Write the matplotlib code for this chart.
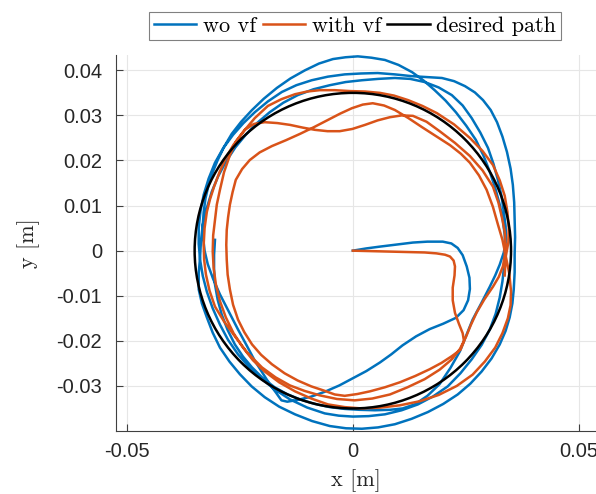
import numpy as np
import matplotlib
matplotlib.use('Agg')
import matplotlib.pyplot as plt
from matplotlib.patches import Circle
from matplotlib.lines import Line2D

plt.rcParams['font.family'] = ['Liberation Sans', 'DejaVu Sans']
plt.rcParams['axes.unicode_minus'] = False

# desired path: circle, radius in m
R_DESIRED = 0.035

# trajectories, (x, y) in mm
wo_vf_mm = [
    (0.0, 0.0), (3.0, 0.5), (6.0, 0.9), (10.0, 1.4), (13.3, 1.8), (16.5, 2.0), (19.9, 2.0),
    (21.8, 1.6), (23.2, 0.6), (24.3, -1.0), (25.2, -3.5), (25.8, -6.0), (25.9, -8.5),
    (25.5, -11.0), (24.5, -13.2), (22.8, -14.9), (20.0, -16.2), (17.0, -17.4), (14.0, -19.0),
    (11.0, -21.0), (8.5, -23.0), (6.0, -24.8), (3.0, -26.7), (0.0, -28.3), (-3.0, -29.9),
    (-6.2, -31.3), (-9.3, -32.4), (-12.2, -33.1), (-14.5, -33.5), (-15.8, -33.2),
    (-17.0, -31.5), (-18.4, -29.6), (-20.0, -27.1), (-21.7, -24.4), (-23.5, -21.0),
    (-25.4, -17.5), (-27.4, -13.6), (-29.4, -9.7), (-30.9, -6.3), (-32.1, -3.0), (-32.8, 0.0),
    (-33.1, 2.8), (-33.2, 5.7), (-33.0, 8.6), (-32.6, 11.6), (-31.9, 14.6), (-31.0, 17.4),
    (-29.9, 20.1), (-28.5, 23.0), (-26.8, 25.9), (-24.7, 28.6), (-22.3, 31.2), (-19.7, 33.7),
    (-16.8, 36.1), (-13.8, 38.2), (-10.6, 40.0), (-7.5, 41.5), (-4.4, 42.5), (-1.6, 42.9),
    (1.1, 43.1), (4.1, 42.8), (7.1, 42.3), (10.1, 41.2), (13.1, 39.6), (15.7, 37.7),
    (18.1, 35.6), (20.5, 33.3), (22.8, 30.7), (25.1, 27.7), (27.2, 24.6), (28.9, 21.1),
    (30.3, 17.5), (31.5, 13.9), (32.5, 10.2), (33.2, 6.8), (33.6, 3.5), (33.7, 0.2),
    (33.5, -3.1), (33.1, -6.8), (32.5, -10.4), (31.6, -14.0), (30.3, -17.5), (28.5, -20.9),
    (26.3, -24.1), (23.8, -27.2), (21.0, -30.1), (17.8, -32.3), (14.4, -34.1), (10.8, -35.4),
    (7.1, -36.3), (3.5, -36.7), (0.0, -36.8), (-3.1, -36.6), (-6.2, -36.1), (-10.1, -34.8),
    (-13.9, -33.0), (-17.1, -30.9), (-20.1, -28.5), (-22.9, -25.9), (-25.4, -23.0),
    (-27.6, -19.8), (-29.4, -16.4), (-31.0, -12.8), (-32.3, -9.1), (-33.2, -5.6), (-33.8, -2.0),
    (-34.1, 1.5), (-34.1, 5.1), (-33.7, 8.8), (-33.0, 12.4), (-31.9, 16.0), (-30.5, 19.5),
    (-28.7, 22.7), (-26.5, 25.7), (-24.2, 28.3), (-21.7, 30.7), (-18.8, 33.1), (-15.7, 35.2),
    (-12.5, 36.7), (-9.1, 37.8), (-5.5, 38.6), (-1.8, 39.1), (1.8, 39.3), (5.5, 39.4),
    (9.3, 39.1), (13.1, 38.7), (16.4, 38.5), (19.7, 38.3), (22.4, 37.6), (24.8, 36.5),
    (27.0, 35.1), (28.8, 33.4), (30.5, 31.2), (31.9, 28.5), (33.1, 25.3), (34.1, 21.9),
    (34.9, 18.2), (35.4, 14.6), (35.7, 10.7), (35.8, 6.9), (35.9, 3.0), (35.8, -0.9),
    (35.8, -4.8), (35.6, -8.6), (35.3, -11.7), (34.7, -14.8), (33.8, -17.8), (32.5, -20.8),
    (30.7, -23.9), (28.5, -26.8), (26.0, -29.5), (23.2, -31.9), (20.0, -34.0), (16.6, -35.8),
    (13.0, -37.3), (9.3, -38.5), (5.6, -39.2), (2.0, -39.5), (-1.5, -39.4), (-5.1, -38.9),
    (-9.0, -37.8), (-12.8, -36.3), (-16.3, -34.6), (-19.5, -32.5), (-22.4, -30.1),
    (-25.0, -27.4), (-27.3, -24.6), (-29.4, -21.5), (-31.0, -18.2), (-32.3, -14.8),
    (-33.4, -11.7), (-34.1, -8.6), (-34.1, -5.0), (-33.8, -1.5), (-33.6, 2.2), (-33.2, 5.8),
    (-32.3, 9.5), (-31.2, 13.1), (-29.8, 16.5), (-28.1, 19.7), (-26.0, 22.9), (-23.7, 25.7),
    (-21.2, 28.3), (-18.4, 30.7), (-15.4, 32.8), (-12.2, 34.5), (-8.7, 35.8), (-5.1, 36.7),
    (-1.6, 37.4), (2.0, 37.8), (5.6, 38.1), (9.3, 38.3), (12.7, 38.1), (15.9, 37.4),
    (19.0, 36.2), (21.9, 34.5), (24.3, 32.2), (26.3, 29.4), (28.2, 26.2), (29.9, 22.8),
    (31.1, 19.3), (32.1, 15.7), (32.9, 12.1), (33.4, 8.6), (33.8, 5.4), (33.9, 2.4),
    (33.4, -0.4), (32.5, -3.1), (31.5, -5.5), (30.3, -8.0), (28.4, -11.7), (26.5, -15.3),
    (25.1, -18.8), (23.7, -22.3), (21.6, -26.0), (19.2, -29.6), (16.5, -32.2), (13.7, -34.1),
    (11.0, -35.0), (8.2, -35.3), (4.9, -35.4), (1.5, -35.3), (-1.8, -35.1), (-5.1, -34.7),
    (-8.4, -34.0), (-11.7, -33.0), (-14.6, -31.8), (-17.3, -30.3), (-19.9, -28.3),
    (-22.3, -25.9), (-24.3, -23.5), (-26.1, -20.8), (-27.7, -17.6), (-29.0, -14.2),
    (-29.9, -10.9), (-30.5, -7.5), (-30.7, -4.2), (-30.7, -0.9), (-30.5, 2.4),
]

with_vf_mm = [
    (0.0, 0.0), (4.0, -0.1), (8.2, -0.2), (12.0, -0.3), (15.9, -0.4), (18.5, -0.6),
    (20.4, -0.9), (21.5, -1.3), (22.3, -2.2), (22.6, -3.5), (22.5, -5.5), (22.1, -8.2),
    (22.1, -11.0), (22.6, -13.8), (23.5, -16.3), (24.3, -18.3), (24.6, -20.1), (23.8, -22.0),
    (21.9, -23.4), (19.6, -24.9), (17.0, -26.3), (13.8, -27.8), (10.4, -29.2), (7.1, -30.3),
    (3.8, -31.2), (1.0, -31.8), (-1.8, -32.2),
    (-4.0, -31.9), (-6.2, -31.1), (-9.2, -30.1), (-12.2, -28.8), (-15.1, -27.2),
    (-17.9, -25.2), (-20.3, -23.1), (-22.3, -20.8), (-24.0, -18.1), (-25.4, -15.3),
    (-26.5, -12.0), (-27.2, -8.6), (-27.7, -5.3), (-27.9, -2.0), (-28.0, 1.3), (-27.9, 4.6),
    (-27.6, 7.4), (-27.2, 10.2), (-26.6, 13.0), (-25.9, 15.7), (-24.5, 18.1), (-22.8, 20.1),
    (-20.6, 21.8), (-17.9, 23.2), (-14.8, 24.5), (-11.7, 25.9), (-8.6, 27.4), (-5.5, 29.0),
    (-2.8, 30.4), (-0.2, 31.6), (2.2, 32.4), (4.4, 32.7), (6.9, 32.2), (9.3, 31.2),
    (12.3, 29.4), (15.3, 27.4), (18.4, 25.4), (21.5, 23.4), (23.9, 21.5), (25.9, 19.5),
    (27.9, 16.7), (29.6, 13.5), (31.0, 9.7), (32.1, 5.8), (33.1, 2.4), (33.8, -1.0),
    (34.6, -5.0), (35.0, -9.0), (34.9, -12.1), (34.3, -15.0), (33.1, -18.3), (31.5, -21.5),
    (29.2, -24.6), (26.5, -27.5), (23.0, -30.0), (19.0, -32.0), (14.8, -33.4), (10.4, -34.3),
    (6.2, -34.8), (2.0, -35.0), (-1.8, -34.7), (-5.5, -34.1),
    (-9.2, -32.8), (-12.8, -31.2), (-16.3, -29.2), (-19.5, -26.8), (-22.1, -24.3),
    (-24.3, -21.5), (-26.4, -18.3), (-28.1, -14.8), (-29.4, -11.2), (-30.3, -7.5),
    (-30.8, -3.8), (-31.0, -0.2), (-30.9, 3.4), (-30.5, 6.9), (-30.1, 10.2), (-29.4, 13.5),
    (-28.5, 17.4), (-27.2, 21.2), (-25.8, 24.3), (-23.9, 26.8), (-21.9, 28.1), (-19.5, 28.5),
    (-16.7, 28.3), (-13.9, 27.9), (-11.1, 27.3), (-8.4, 26.8), (-5.6, 26.5), (-2.9, 26.5),
    (-0.1, 27.0), (2.7, 27.9), (5.5, 28.9), (8.2, 29.6), (10.8, 30.0), (13.3, 29.9),
    (16.3, 28.6), (19.2, 26.5), (22.6, 23.9), (25.9, 21.0), (28.7, 17.8), (31.0, 14.2),
    (32.2, 10.7), (33.0, 7.3), (33.6, 4.2), (33.8, 1.3), (33.6, -1.1), (33.2, -3.5),
    (32.3, -5.8), (31.0, -8.0), (29.1, -10.8), (27.4, -13.7), (26.1, -16.5), (25.0, -19.2),
    (23.7, -21.8), (21.9, -24.1), (19.2, -26.4), (15.9, -28.5), (12.1, -30.3), (8.2, -31.9),
    (4.3, -32.8), (0.4, -33.2), (-3.5, -32.9), (-7.3, -32.1), (-10.7, -31.1), (-13.9, -29.9),
    (-17.1, -28.1), (-20.1, -25.9), (-23.3, -22.7), (-26.1, -19.0), (-28.5, -15.7),
    (-30.5, -12.4), (-31.7, -8.9), (-32.5, -5.3), (-32.9, -2.0), (-33.0, 1.3), (-32.8, 5.0),
    (-32.3, 8.6), (-31.6, 11.4), (-30.7, 14.2), (-29.5, 17.4), (-28.1, 20.6), (-26.4, 23.5),
    (-24.3, 26.3), (-21.7, 29.4), (-18.8, 32.1), (-15.8, 33.6), (-12.8, 34.7), (-10.1, 35.3),
    (-7.3, 35.6), (-4.0, 35.6), (-0.7, 35.4), (2.7, 35.3), (6.0, 35.0), (9.1, 34.4),
    (12.2, 33.4), (15.4, 32.1), (18.6, 30.5), (22.4, 28.0), (25.9, 25.0), (28.7, 22.1),
    (31.0, 19.0), (32.5, 15.6), (33.6, 12.2), (34.2, 8.6), (34.5, 5.1), (34.4, 1.8),
    (33.8, -1.5), (33.6, -5.5),
]

xticks = [-0.05, 0, 0.05]
xtick_labels = ['-0.05', '0', '0.05']
yticks = [-0.03, -0.02, -0.01, 0, 0.01, 0.02, 0.03, 0.04]
ytick_labels = ['-0.03', '-0.02', '-0.01', '0', '0.01', '0.02', '0.03', '0.04']

C_BLUE = '#0072BD'
C_ORANGE = '#D95319'
LW = 1.8

fig = plt.figure(figsize=(5.96, 4.94), dpi=100)
ax = fig.add_axes([116 / 596, 63 / 494, 480 / 596, 376 / 494])

wo = np.array(wo_vf_mm) / 1000.0
wv = np.array(with_vf_mm) / 1000.0
ax.plot(wo[:, 0], wo[:, 1], color=C_BLUE, lw=LW, solid_joinstyle='round')
ax.plot(wv[:, 0], wv[:, 1], color=C_ORANGE, lw=LW, solid_joinstyle='round')
ax.add_patch(Circle((0, 0), R_DESIRED, fill=False, edgecolor='black', lw=LW, zorder=3))

ax.set_xlim(-0.0524, 0.0538)
ax.set_ylim(-0.040, 0.0434)
ax.set_xticks(xticks)
ax.set_xticklabels(xtick_labels)
ax.set_yticks(yticks)
ax.set_yticklabels(ytick_labels)

# matlab-like look
ax.grid(True, color='#e6e6e6', linewidth=0.8)
ax.set_axisbelow(True)
ax.spines['top'].set_visible(False)
ax.spines['right'].set_visible(False)
for s in ['left', 'bottom']:
    ax.spines[s].set_color('#404040')
    ax.spines[s].set_linewidth(0.8)
ax.tick_params(direction='in', length=5, width=0.8, color='#404040',
               labelsize=14.5, labelcolor='#262626')
ax.tick_params(axis='y', pad=10)
ax.tick_params(axis='x', pad=8)

ax.set_xlabel('x [m]', fontfamily='cmr10', fontsize=16, color='#262626', labelpad=6)
ax.set_ylabel('y [m]', fontfamily='cmr10', fontsize=16, color='#262626', labelpad=12)

handles = [Line2D([], [], color=C_BLUE, lw=LW),
           Line2D([], [], color=C_ORANGE, lw=LW),
           Line2D([], [], color='black', lw=LW)]
leg = fig.legend(handles, ['wo vf', 'with vf', 'desired path'], loc='center',
                 bbox_to_anchor=(355 / 596, 1 - 26 / 494), ncol=3,
                 prop={'family': 'cmr10', 'size': 16}, fancybox=False,
                 edgecolor='#808080', framealpha=1, handlelength=1.9,
                 handletextpad=0.3, columnspacing=0.3, borderpad=0.2)
leg.get_frame().set_linewidth(0.8)

fig.savefig('out.png', dpi=100)
